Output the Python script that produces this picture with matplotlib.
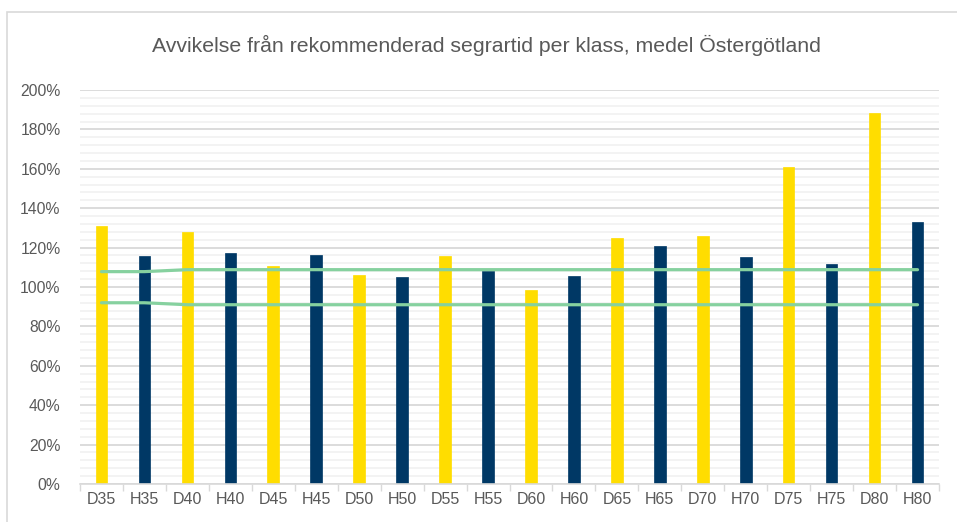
import numpy as np
import matplotlib.pyplot as plt
from matplotlib.patches import Rectangle

plt.rcParams['font.family'] = ['Liberation Sans', 'DejaVu Sans']

klasser = ['D35', 'H35', 'D40', 'H40', 'D45', 'H45', 'D50', 'H50', 'D55', 'H55',
           'D60', 'H60', 'D65', 'H65', 'D70', 'H70', 'D75', 'H75', 'D80', 'H80']
avvikelse = [131.0, 115.7, 127.9, 117.4, 110.8, 116.2, 105.9, 104.9, 115.7, 108.3,
             98.6, 105.4, 124.9, 121.0, 126.0, 115.1, 160.8, 111.5, 188.3, 133.0]
ovre_grans = [107.8, 107.8] + [108.8] * 18
undre_grans = [92.0, 92.0] + [91.0] * 18

gul = '#FFDD00'
bla = '#003865'
gron = '#86D19F'
farger = [gul if k.startswith('D') else bla for k in klasser]

fig = plt.figure(figsize=(9.57, 5.22), dpi=100)
ax = fig.add_axes([80/957, 1 - 484/522, (939-80)/957, (484-90)/522])

# ram runt diagrammet
fig.patches.append(Rectangle((7/957, -0.1), 1.2, 1 - 12/522 + 0.1, transform=fig.transFigure,
                             fill=False, edgecolor='#d9d9d9', linewidth=1.2))

x = np.arange(len(klasser))
ax.bar(x, np.array(avvikelse) / 100, width=0.27, color=farger, edgecolor=farger,
       linewidth=0.5, zorder=3)
ax.plot(x, np.array(ovre_grans) / 100, color=gron, linewidth=2.3, zorder=4,
        solid_capstyle='round')
ax.plot(x, np.array(undre_grans) / 100, color=gron, linewidth=2.3, zorder=4,
        solid_capstyle='round')

ax.set_xlim(-0.5, len(klasser) - 0.5)
ax.set_ylim(0, 2.0)
ax.set_yticks(np.arange(0, 2.01, 0.2))
ax.set_yticklabels([f'{int(round(v*100))}%' for v in np.arange(0, 2.01, 0.2)])
ax.set_yticks(np.arange(0, 2.0, 0.04), minor=True)
ax.grid(axis='y', which='major', color='#d9d9d9', linewidth=1.3, zorder=0)
ax.grid(axis='y', which='minor', color='#f2f2f2', linewidth=1.3, zorder=0)
ax.set_axisbelow(True)

ax.set_xticks(x)
ax.set_xticklabels(klasser)
ax.set_xticks(np.arange(-0.5, len(klasser), 1), minor=True)
ax.tick_params(axis='x', which='major', length=0, pad=6, labelsize=11.5, labelcolor='#595959')
ax.tick_params(axis='x', which='minor', length=5, color='#d9d9d9', width=1)
ax.tick_params(axis='y', which='both', length=0, pad=14, labelsize=11.3, labelcolor='#595959')

for s in ['top', 'right', 'left']:
    ax.spines[s].set_visible(False)
ax.spines['bottom'].set_color('#d9d9d9')
ax.spines['bottom'].set_linewidth(1.2)
ax.spines['bottom'].set_zorder(5)

fig.text(486/957, 1 - 45/522, 'Avvikelse från rekommenderad segrartid per klass, medel Östergötland',
         ha='center', va='center', fontsize=15.3, color='#595959')

plt.savefig('out.png', dpi=100)
